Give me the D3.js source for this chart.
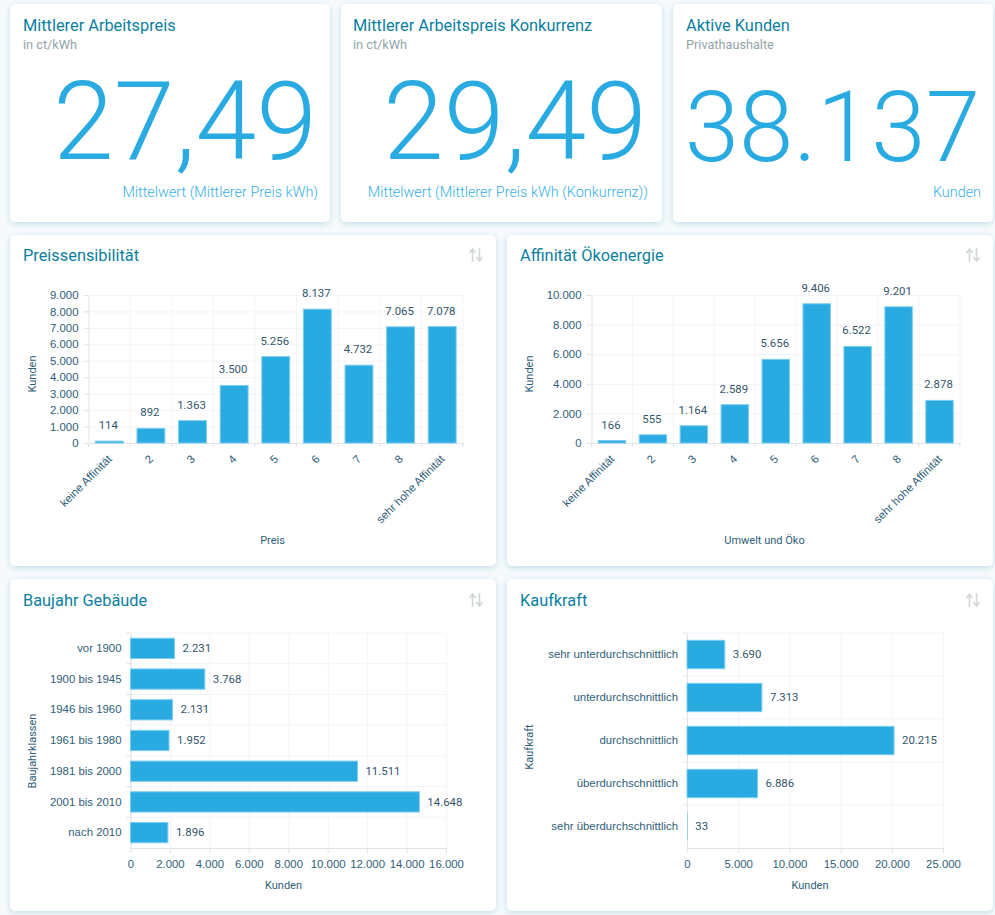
<!DOCTYPE html>
<html lang="de">
<head>
<meta charset="utf-8">
<title>Dashboard</title>
<script src="https://cdn.jsdelivr.net/npm/d3@7"></script>
<style>
  html, body { margin: 0; padding: 0; background: #f6fafc; }
  svg { display: block; font-family: Roboto, sans-serif; }
  .card { fill: #fff; filter: drop-shadow(0 2px 3px rgba(70, 150, 180, 0.28)); }
  .title { fill: #0b7f9f; font-size: 16.35px; }
  .sub { fill: #90a4aa; font-size: 12.7px; }
  .big { fill: #29abe2; font-weight: 300; text-anchor: end; }
  .caption { fill: #38afe5; font-size: 14.4px; font-weight: 300; text-anchor: end; }
  .tick text { fill: #2f6079; font-size: 11.4px; }
  .value { fill: #33566b; font-size: 11.4px; }
  .axis-title { fill: #2f6079; font-size: 11px; text-anchor: middle; }
  .domain, .tick line { stroke: #dfe3e6; }
  .grid line { stroke: #f3f4fa; }
  .grid .domain { display: none; }
  .bar { fill: #29abe2; stroke: #7ccdef; stroke-width: 1; }
  .icon { fill: none; stroke: #d0d5d7; stroke-width: 1.5; }
</style>
</head>
<body>
<div id="chart"></div>
<script>
const width = 995, height = 915;

// KPI cards
const kpiTitles = ['Mittlerer Arbeitspreis', 'Mittlerer Arbeitspreis Konkurrenz', 'Aktive Kunden'];
const kpiSubs = ['in ct/kWh', 'in ct/kWh', 'Privathaushalte'];
const kpiValues = ['27,49', '29,49', '38.137'];
const kpiCaptions = ['Mittelwert (Mittlerer Preis kWh)', 'Mittelwert (Mittlerer Preis kWh (Konkurrenz))', 'Kunden'];

// Bar charts
const affinityLabels = ['keine Affinität', '2', '3', '4', '5', '6', '7', '8', 'sehr hohe Affinität'];
const preisValues = [114, 892, 1363, 3500, 5256, 8137, 4732, 7065, 7078];
const oekoValues = [166, 555, 1164, 2589, 5656, 9406, 6522, 9201, 2878];
const baujahrLabels = ['vor 1900', '1900 bis 1945', '1946 bis 1960', '1961 bis 1980', '1981 bis 2000', '2001 bis 2010', 'nach 2010'];
const baujahrValues = [2231, 3768, 2131, 1952, 11511, 14648, 1896];
const kaufkraftLabels = ['sehr unterdurchschnittlich', 'unterdurchschnittlich', 'durchschnittlich', 'überdurchschnittlich', 'sehr überdurchschnittlich'];
const kaufkraftValues = [3690, 7313, 20215, 6886, 33];

const de = d3.formatLocale({ decimal: ',', thousands: '.', grouping: [3], currency: ['', ' €'] });
const fmt = de.format(',d');

const svg = d3.select('#chart').append('svg')
    .attr('width', width)
    .attr('height', height);

function card(x, y, w, h) {
    svg.append('rect').attr('class', 'card')
        .attr('x', x).attr('y', y).attr('width', w).attr('height', h).attr('rx', 5);
}

function label(cls, x, y, text) {
    return svg.append('text').attr('class', cls).attr('x', x).attr('y', y).text(text);
}

// Top row
const kpiBoxes = [
    { x: 10, w: 320, left: 23, right: 317, size: 109.5, base: 159 },
    { x: 341, w: 321, left: 353, right: 647, size: 109.5, base: 159 },
    { x: 673, w: 320, left: 686, right: 980, size: 98, base: 161 }
];
kpiBoxes.forEach((b, i) => {
    card(b.x, 4, b.w, 218);
    label('title', b.left, 31, kpiTitles[i]);
    label('sub', b.left, 49, kpiSubs[i]);
    label('big', b.right, b.base, kpiValues[i]).style('font-size', b.size + 'px');
    label('caption', b.x + b.w - (i === 1 ? 14 : 12), 197, kpiCaptions[i]);
});

// Sort icon in the chart cards
function sortIcon(x, y) {
    const g = svg.append('g').attr('class', 'icon').attr('transform', `translate(${x},${y})`);
    g.append('path').attr('d', 'M3.5 14V1M0.5 5L3.5 1L6.5 5');
    g.append('path').attr('d', 'M10.5 0V13M7.5 9L10.5 13L13.5 9');
}

function columnChart(o) {
    card(o.cardX, 235, 486, 331);
    label('title', o.cardX + 13, 261, o.title);
    sortIcon(o.cardX + 459, 248);

    const x = d3.scaleBand().domain(o.labels).range([o.x0, o.x1]).paddingInner(0.33).paddingOuter(0.165);
    const y = d3.scaleLinear().domain([0, o.max]).range([443, 295]);

    // tick marks sit on the band edges, like the original
    const xEdge = d3.scaleBand().domain(o.labels).range([o.x0, o.x1]);

    svg.append('g').attr('class', 'grid')
        .selectAll('line').data(o.labels).enter().append('line')
        .attr('x1', d => xEdge(d) + xEdge.bandwidth())
        .attr('x2', d => xEdge(d) + xEdge.bandwidth())
        .attr('y1', 295).attr('y2', 443);
    svg.append('g').attr('class', 'grid')
        .attr('transform', `translate(${o.x0},0)`)
        .call(d3.axisLeft(y).ticks(o.ticks).tickSize(-(o.x1 - o.x0)).tickFormat(''));

    svg.append('g').attr('transform', `translate(${o.x0},0)`)
        .call(d3.axisLeft(y).ticks(o.ticks).tickSize(5).tickPadding(5).tickSizeOuter(0).tickFormat(fmt));

    const xAxis = svg.append('g').attr('transform', 'translate(0,443)')
        .call(d3.axisBottom(x).tickSize(0).tickSizeOuter(0));
    xAxis.selectAll('.tick text')
        .attr('text-anchor', 'end')
        .attr('dx', '-0.1em').attr('dy', '0.1em')
        .attr('transform', 'translate(1,13) rotate(-45)');
    xAxis.selectAll('.edge').data(o.labels).enter().append('line')
        .attr('class', 'edge').attr('stroke', '#dfe3e6')
        .attr('x1', d => xEdge(d) + xEdge.bandwidth())
        .attr('x2', d => xEdge(d) + xEdge.bandwidth())
        .attr('y1', 0).attr('y2', 4);
    xAxis.append('line').attr('stroke', '#dfe3e6')
        .attr('x1', o.x0).attr('x2', o.x0).attr('y1', 0).attr('y2', 4);

    svg.append('g').selectAll('rect').data(o.values).enter().append('rect')
        .attr('class', 'bar')
        .attr('x', (d, i) => x(o.labels[i]))
        .attr('y', d => y(d))
        .attr('width', x.bandwidth())
        .attr('height', d => y(0) - y(d));

    svg.append('g').selectAll('text').data(o.values).enter().append('text')
        .attr('class', 'value')
        .attr('text-anchor', 'middle')
        .attr('x', (d, i) => x(o.labels[i]) + x.bandwidth() / 2 - 1)
        .attr('y', d => y(d) - 12)
        .text(fmt);

    label('axis-title', o.titleX, 544, o.xTitle);
    label('axis-title', 0, 0, 'Kunden')
        .attr('transform', `translate(${o.yTitleX},374) rotate(-90)`);
}

function barChart(o) {
    card(o.cardX, 579, 486, 332);
    label('title', o.cardX + 13, 606, o.title);
    sortIcon(o.cardX + 459, 593);

    const x = d3.scaleLinear().domain([0, o.max]).range([o.x0, o.x1]);
    const y = d3.scaleBand().domain(o.labels).range([633, 848]).paddingInner(0.34).paddingOuter(0.17);
    const yEdge = d3.scaleBand().domain(o.labels).range([633, 848]);

    svg.append('g').attr('class', 'grid')
        .attr('transform', 'translate(0,848)')
        .call(d3.axisBottom(x).ticks(o.ticks).tickSize(-215).tickFormat(''));
    svg.append('g').attr('class', 'grid')
        .selectAll('line').data(o.labels).enter().append('line')
        .attr('x1', o.x0).attr('x2', o.x1)
        .attr('y1', d => yEdge(d)).attr('y2', d => yEdge(d));

    svg.append('g').attr('transform', 'translate(0,848)')
        .call(d3.axisBottom(x).ticks(o.ticks).tickSize(5).tickPadding(7).tickSizeOuter(0).tickFormat(fmt));

    const yAxis = svg.append('g').attr('transform', `translate(${o.x0},0)`)
        .call(d3.axisLeft(y).tickSize(0).tickPadding(9).tickSizeOuter(0));
    yAxis.selectAll('.edge').data(o.labels).enter().append('line')
        .attr('class', 'edge').attr('stroke', '#dfe3e6')
        .attr('x1', -4).attr('x2', 0)
        .attr('y1', d => yEdge(d)).attr('y2', d => yEdge(d));

    svg.append('g').selectAll('rect').data(o.values).enter().append('rect')
        .attr('class', 'bar')
        .attr('x', o.x0)
        .attr('y', (d, i) => y(o.labels[i]))
        .attr('width', d => x(d) - o.x0)
        .attr('height', y.bandwidth())
        .filter(d => x(d) - o.x0 < 1)
        .style('stroke', 'none');

    svg.append('g').selectAll('text').data(o.values).enter().append('text')
        .attr('class', 'value')
        .attr('x', d => x(d) + 8)
        .attr('y', (d, i) => y(o.labels[i]) + y.bandwidth() / 2)
        .attr('dy', '0.32em')
        .text(fmt);

    label('axis-title', o.titleX, 889, 'Kunden');
    label('axis-title', 0, 0, o.yTitle)
        .attr('transform', `translate(${o.yTitleX},${o.yTitleY}) rotate(-90)`);
}

columnChart({ cardX: 10, title: 'Preissensibilität', labels: affinityLabels, values: preisValues, max: 9000, ticks: 9,
    x0: 88.5, x1: 463, xTitle: 'Preis', titleX: 272.5, yTitleX: 36 });
columnChart({ cardX: 507, title: 'Affinität Ökoenergie', labels: affinityLabels, values: oekoValues, max: 10000, ticks: 5,
    x0: 591.5, x1: 960, xTitle: 'Umwelt und Öko', titleX: 764.5, yTitleX: 533 });
barChart({ cardX: 10, title: 'Baujahr Gebäude', labels: baujahrLabels, values: baujahrValues, max: 16000, ticks: 8,
    x0: 130.5, x1: 446, titleX: 283.5, yTitle: 'Baujahrklassen', yTitleX: 36, yTitleY: 751 });
barChart({ cardX: 507, title: 'Kaufkraft', labels: kaufkraftLabels, values: kaufkraftValues, max: 25000, ticks: 5,
    x0: 687, x1: 943, titleX: 810, yTitle: 'Kaufkraft', yTitleX: 533, yTitleY: 747 });
</script>
</body>
</html>
